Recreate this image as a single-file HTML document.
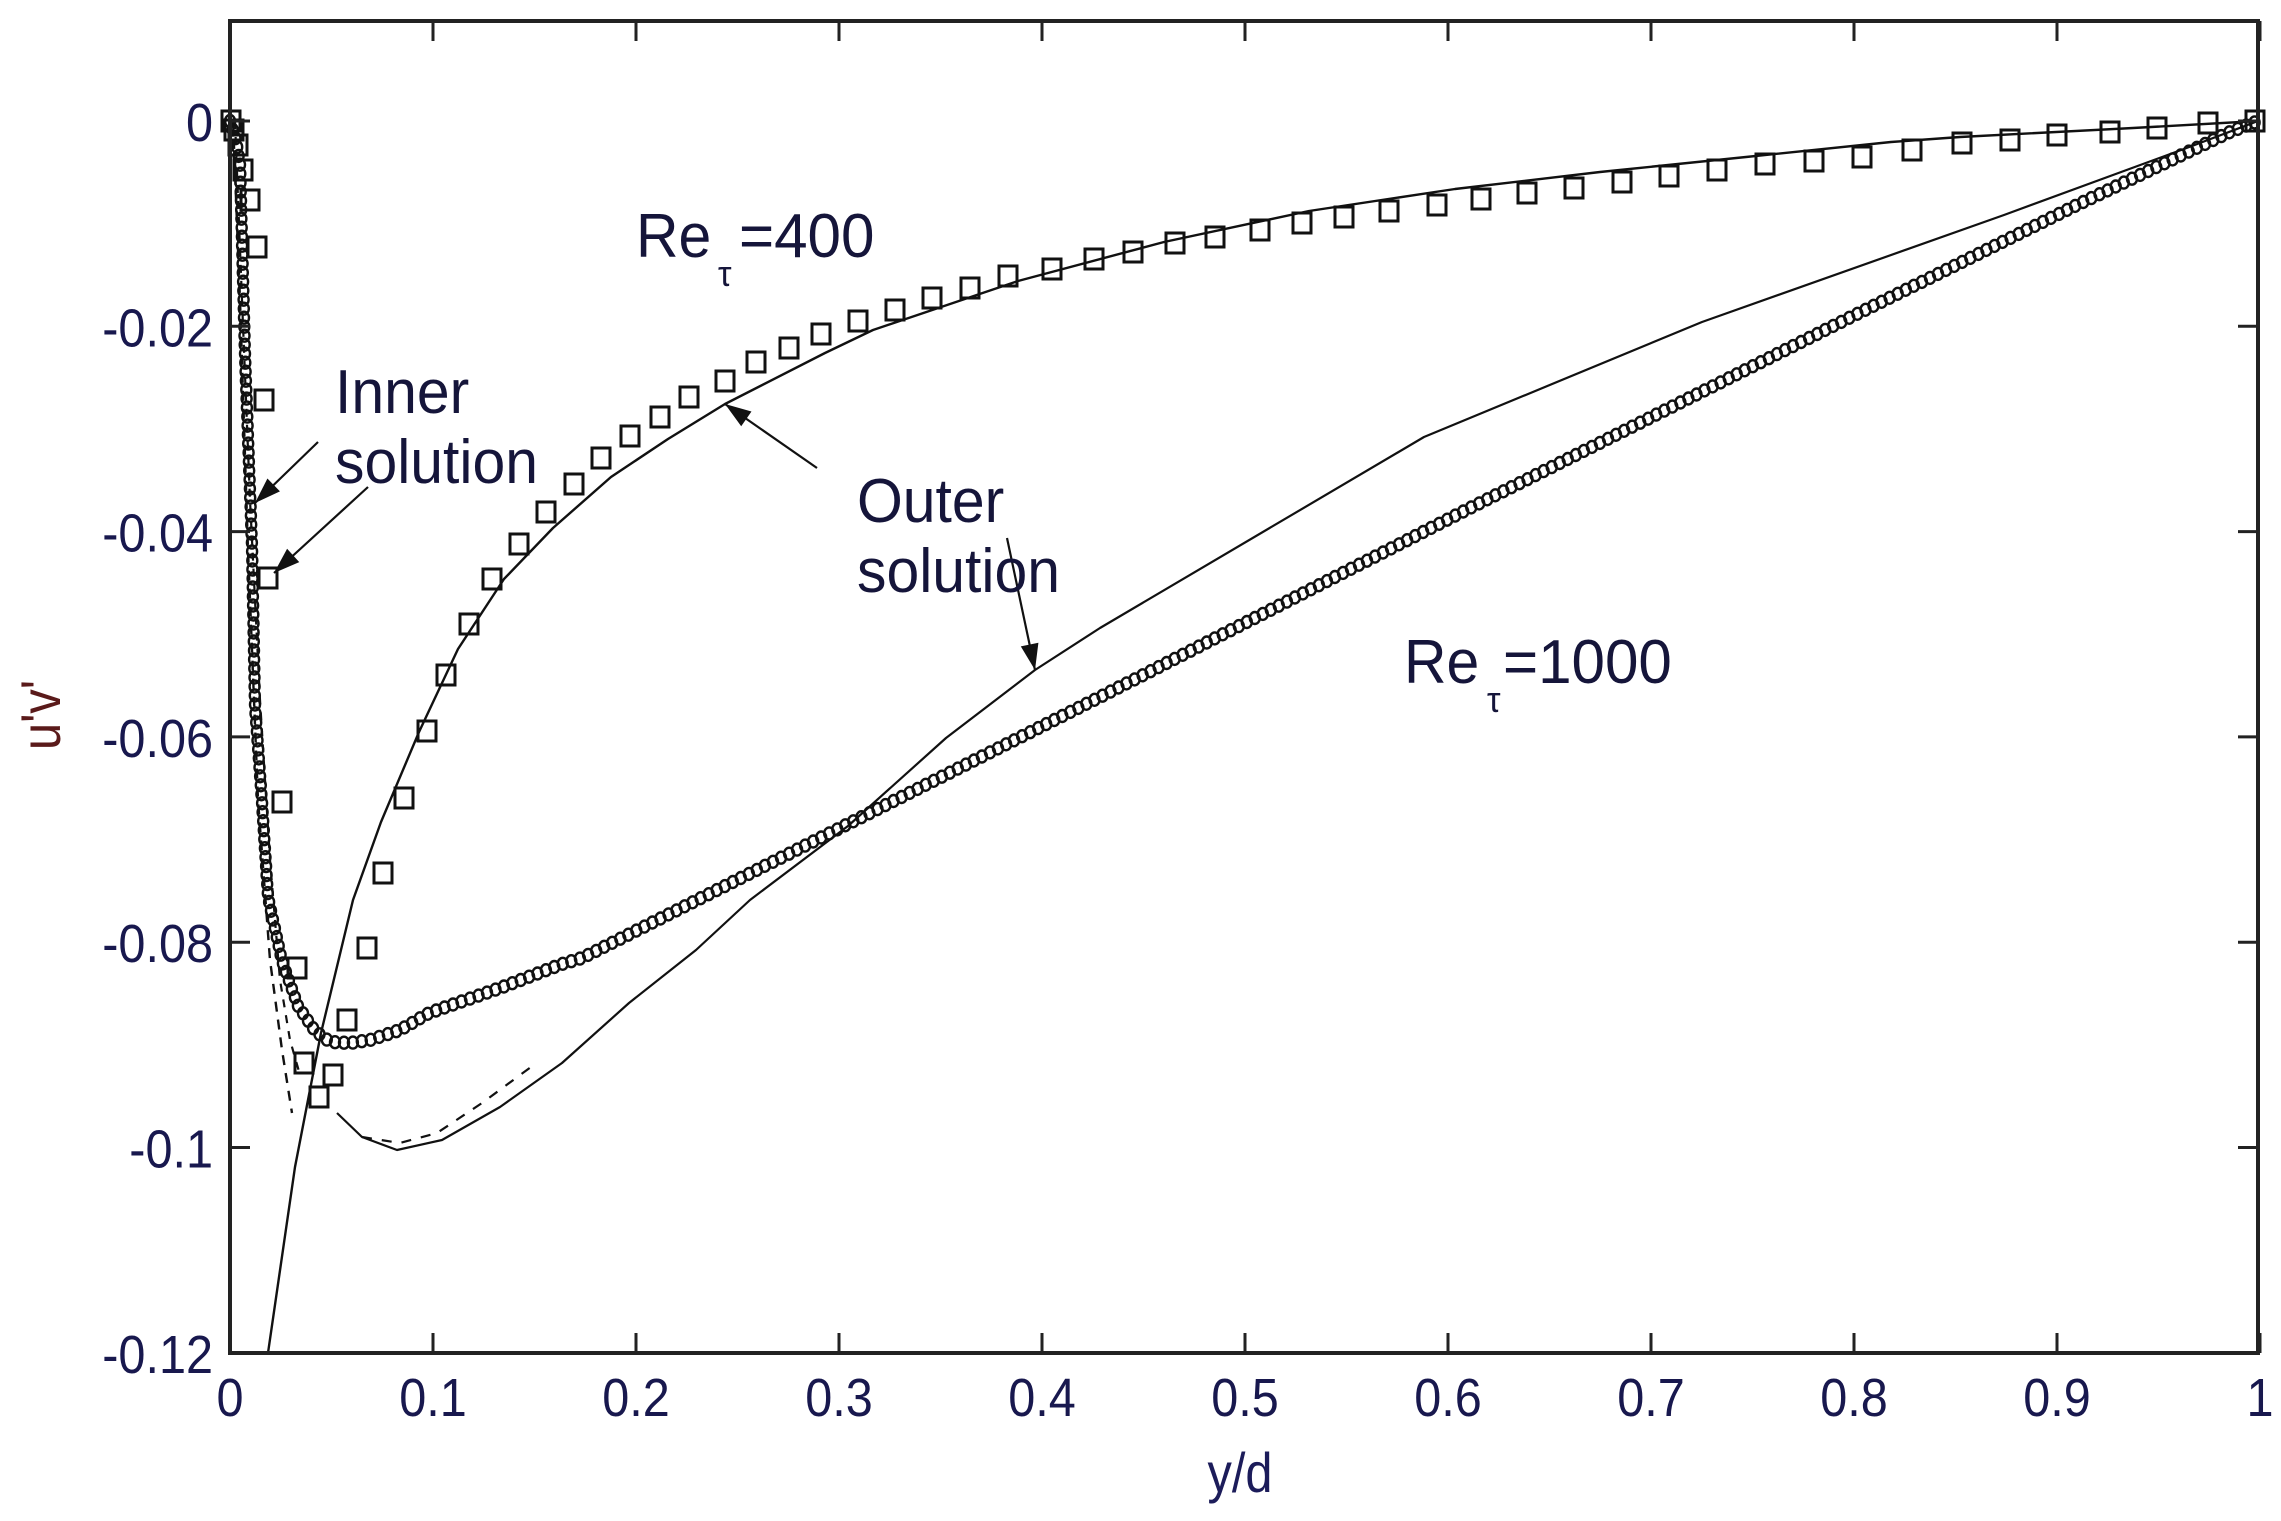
<!DOCTYPE html>
<html><head><meta charset="utf-8">
<style>html,body{margin:0;padding:0;background:#fff;}svg{display:block;}</style>
</head><body>
<svg id="s" xmlns="http://www.w3.org/2000/svg" width="2281" height="1521" viewBox="0 0 2281 1521">
<rect width="2281" height="1521" fill="#fff"/>
<g id="data" fill="none" stroke="#111"></g>
<rect x="230" y="21" width="2028" height="1332" fill="none" stroke="#222" stroke-width="4"/>
<g id="ticks" stroke="#222" stroke-width="3"></g>
<g id="txt" font-family="'Liberation Sans', Arial, sans-serif"></g>
</svg>
<script>
var NS="http://www.w3.org/2000/svg";
function el(p,t,a){var e=document.createElementNS(NS,t);for(var k in a)e.setAttribute(k,a[k]);p.appendChild(e);return e;}
var D=document.getElementById('data'),T=document.getElementById('ticks'),X=document.getElementById('txt');
function pl(pts,w,dash){var a={points:pts.map(function(p){return p.join(',')}).join(' '),'stroke-width':w,'stroke-linejoin':'round'};if(dash)a['stroke-dasharray']=dash;el(D,'polyline',a);}
for(var k=0;k<=10;k++){var x=230+203*k;el(T,'line',{x1:x,y1:1353,x2:x,y2:1333});el(T,'line',{x1:x,y1:21,x2:x,y2:41});}
for(var k=0;k<=6;k++){var y=121+205.3*k;el(T,'line',{x1:230,y1:y,x2:250,y2:y});el(T,'line',{x1:2258,y1:y,x2:2238,y2:y});}
function tx(x,y,s,size,anchor,fill,sx){var t=el(X,'text',{transform:'translate('+x+','+y+') scale('+(sx||0.87)+',1)','font-size':size,'text-anchor':anchor||'start',fill:fill||'#18184e'});t.textContent=s;return t;}
var yl=['0','-0.02','-0.04','-0.06','-0.08','-0.1','-0.12'];
for(var k=0;k<=6;k++)tx(213,121+205.3*k+20,yl[k],54,'end',null,0.9);
var xl=['0','0.1','0.2','0.3','0.4','0.5','0.6','0.7','0.8','0.9','1'];
for(var k=0;k<=10;k++)tx(230+203*k,1416,xl[k],54,'middle',null,0.9);
tx(1240,1492,'y/d',56,'middle','#1c1c5a');
var yt=el(X,'text',{transform:'translate(60,715) rotate(-90) scale(0.87,1)','font-size':56,'text-anchor':'middle',fill:'#5a1a1a'});yt.textContent="u'v'";
var AC='#15153a';
tx(335,413,'Inner',62,'start',AC,0.95);tx(335,483,'solution',62,'start',AC,0.95);
tx(636,257,'Re',62,'start',AC,0.95);tx(718,286,'\u03c4',36,'start',AC,0.95);tx(739,257,'=400',62,'start',AC,0.97);
tx(857,522,'Outer',62,'start',AC,0.95);tx(857,592,'solution',62,'start',AC,0.95);
tx(1404,683,'Re',62,'start',AC,0.95);tx(1487,712,'\u03c4',36,'start',AC,0.95);tx(1503,683,'=1000',62,'start',AC,0.97);
var c1=[[230,121],[236,140],[240,164],[245,355],[252,546],[255,706],[262,802],[268,897],[282,961],[298,1006],[315,1031],[330,1042],[350,1043],[370,1040],[400,1030],[429,1013],[500,988],[562,964],[582,958],[1100,697],[1476,505],[1853,316],[2079,204],[2230,132],[2258,121]];
function sample(pts,step){var out=[pts[0]],acc=0;for(var i=1;i<pts.length;i++){var a=pts[i-1],b=pts[i],dx=b[0]-a[0],dy=b[1]-a[1],L=Math.sqrt(dx*dx+dy*dy),t=step-acc;while(t<=L){out.push([a[0]+dx*t/L,a[1]+dy*t/L]);t+=step;}acc=L-(t-step);}return out;}
sample(c1,9).forEach(function(p){el(D,'ellipse',{cx:p[0].toFixed(1),cy:p[1].toFixed(1),rx:5,ry:6,'stroke-width':2.4});});
var sq=[[231,121],[234,130],[238,145],[243,170],[250,200],[257,247],[264,400],[268,578],[282,802],[297,968],[304,1063],[319,1097],[333,1075],[347,1020],[367,948],[383,873],[404,798],[427,731],[446,675],[469,624],[492,579],[519,544],[546,512],[574,484],[601,458],[630,436],[660,417],[689,397],[725,381],[756,362],[789,348],[821,334],[858,321],[895,310],[932,298],[970,288],[1008,276],[1052,269],[1094,259],[1133,252],[1175,243],[1215,237],[1260,230],[1302,223],[1344,217],[1389,211],[1437,205],[1481,199],[1527,193],[1574,188],[1622,182],[1669,176],[1717,170],[1765,164],[1814,161],[1862,157],[1912,150],[1962,143],[2010,140],[2057,135],[2110,132],[2157,128],[2208,123],[2255,121]];
sq.forEach(function(p){el(D,'rect',{x:p[0]-9,y:p[1]-10,width:18,height:20,'stroke-width':3});});
pl([[268,1353],[295,1167],[321,1033],[353,900],[381,822],[419,732],[458,649],[504,579],[553,528],[611,477],[668,439],[725,404],[825,353],[873,330],[1018,281],[1164,242],[1309,211],[1455,189],[1600,172],[1746,157],[1891,142],[1960,137],[2133,128],[2258,121]],2.4);
pl([[2258,121],[2192,146],[2004,215],[1702,322],[1424,437],[1100,628],[1035,670],[946,738],[848,826],[750,900],[696,950],[629,1003],[562,1063],[500,1107],[442,1140],[397,1150],[362,1137],[337,1113]],2.2);
pl([[362,1137],[400,1143],[437,1133],[482,1103],[531,1067]],2.2,'10,10');
pl([[233,121],[240,300],[248,550],[258,800],[270,960],[282,1050],[292,1113]],2.4,'10,8');
pl([[235,121],[242,300],[250,500],[260,700],[270,860],[280,980],[290,1040],[300,1075]],2.2,'8,8');
function arrow(x1,y1,x2,y2){el(D,'line',{x1:x1,y1:y1,x2:x2,y2:y2,'stroke-width':2.2});var dx=x2-x1,dy=y2-y1,L=Math.sqrt(dx*dx+dy*dy),ux=dx/L,uy=dy/L,h=26,w=9;var bx=x2-ux*h,by=y2-uy*h;el(D,'polygon',{points:x2+','+y2+' '+(bx-uy*w)+','+(by+ux*w)+' '+(bx+uy*w)+','+(by-ux*w),fill:'#111',stroke:'none'});}
arrow(318,442,255,503);arrow(368,487,274,573);arrow(817,468,725,404);arrow(1007,538,1035,670);
</script>
</body></html>
